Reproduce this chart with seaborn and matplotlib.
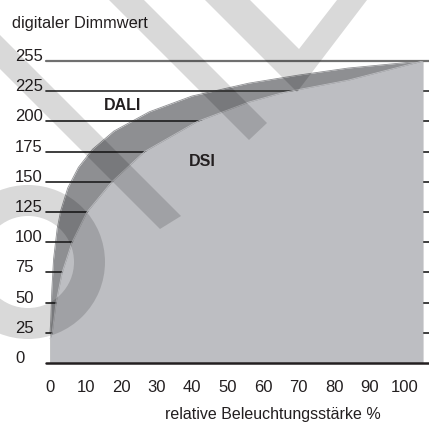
import numpy as np
import pandas as pd
import matplotlib
matplotlib.use("Agg")
import matplotlib.pyplot as plt
from matplotlib.patches import Polygon, Wedge
import seaborn as sns

# values
y_ticks = [0, 25, 50, 75, 100, 125, 150, 175, 200, 225, 255]
y_tick_labels = ["0", "25", "50", "75", "100", "125", "150", "175", "200", "225", "255"]
x_ticks = [0, 10, 20, 30, 40, 50, 60, 70, 80, 90, 100]

# DALI (logarithmic) - upper edge of the dark band
dali_pct = [0, 0.2, 0.5, 1, 2, 3, 5, 8, 12, 18, 28, 40, 56, 70, 84, 105]
dali_val = [25, 35, 60, 86, 111, 126, 145, 162, 177, 192, 208, 221, 233, 241, 248, 255]

# DSI - upper edge of the light grey area
dsi_pct = [0, 0.6, 1.7, 3.4, 6.2, 10.4, 17.4, 26.6, 41.5, 56, 65.8, 84, 105]
dsi_val = [20, 25, 50, 75, 100, 125, 150, 175, 200, 216, 224, 236, 255]

TXT = "#231f20"
LIGHT = "#bdbec2"
DARK = "#8e8f92"

sns.set_theme(style="white")
plt.rcParams["font.family"] = ["Liberation Sans", "DejaVu Sans"]


# axis is linear up to 225, the last step 225 -> 255 gets the same height as the others
def fwd(v):
    v = np.asarray(v, dtype=float)
    return np.where(v <= 225, v, 225 + (v - 225) * 25.0 / 30.0)


def inv(p):
    p = np.asarray(p, dtype=float)
    return np.where(p <= 225, p, 225 + (p - 225) * 30.0 / 25.0)


dali = pd.DataFrame({"pct": dali_pct, "val": dali_val})
dsi = pd.DataFrame({"pct": dsi_pct, "val": dsi_val})

fig = plt.figure(figsize=(4.29, 4.24), dpi=100)
ax = fig.add_axes([46 / 429, 1 - 363 / 424, 383 / 429, 302 / 424])
ax.set_yscale("function", functions=(fwd, inv))

# dark band (DALI) below the grid lines, light area (DSI) above them
ax.fill_between(dali["pct"], dali["val"], 0, color=DARK, lw=0, zorder=1)
sns.lineplot(data=dali, x="pct", y="val", color=DARK, lw=0.6, ax=ax, zorder=1)

for v in y_ticks[1:]:
    if v == 255:
        c, w = "#707070", 1.6
    elif v == 225:
        c, w = "#3c3c3c", 1.3
    else:
        c, w = "#1e1e1e", 1.2
    ax.axhline(v, color=c, lw=w, zorder=2, clip_on=False)

ax.fill_between(dsi["pct"], dsi["val"], 0, color=LIGHT, lw=0, zorder=3)
sns.lineplot(data=dsi, x="pct", y="val", color=LIGHT, lw=0.6, ax=ax, zorder=3)

ax.axhline(0, color=TXT, lw=1.8, zorder=4, clip_on=False)

ax.set_xlim(-1.13, 106.76)
ax.set_ylim(0, 255)
for s in ax.spines.values():
    s.set_visible(False)

ax.set_xticks(x_ticks)
ax.set_xticklabels([str(v) for v in x_ticks], fontsize=12, color=TXT)
ax.tick_params(axis="x", length=0, pad=12)
ax.set_yticks(y_ticks)
ax.set_yticklabels(y_tick_labels, fontsize=12, color=TXT, ha="left", va="baseline")
ax.tick_params(axis="y", length=0, pad=22.3)
ax.set_xlabel("")
ax.set_ylabel("")

ax.text(20.5, 213, "DALI", fontsize=11.5, fontweight="bold", color=TXT,
        ha="center", va="center", zorder=5)
ax.text(42.8, 167, "DSI", fontsize=11.5, fontweight="bold", color=TXT,
        ha="center", va="center", zorder=5)

fig.text(12 / 429, 1 - 28 / 424, "digitaler Dimmwert", fontsize=11.8, color=TXT,
         ha="left", va="baseline")
fig.text(381 / 429, 1 - 419 / 424, "relative Beleuchtungsstärke %", fontsize=11.5,
         color=TXT, ha="right", va="baseline")

# faint watermark laid over the picture (outline in image pixels, y downwards)
H = 424.0
wm = dict(facecolor="black", alpha=0.15, lw=0, zorder=10, transform=fig.dpi_scale_trans)


def px(pts):
    return [(x / 100.0, (H - y) / 100.0) for x, y in pts]


for shape in [
    [(109, 0), (144, 0), (267, 123), (249, 140)],
    [(205, 0), (250, 0), (299, 49), (337, 0), (367, 0), (297, 92)],
    [(0, 69), (0, 35), (181, 216), (160, 229)],
]:
    fig.add_artist(Polygon(px(shape), closed=True, **wm))

fig.add_artist(Wedge((28 / 100.0, (H - 262) / 100.0), 77 / 100.0, 0, 360,
                     width=31 / 100.0, **wm))

fig.savefig("out.png", dpi=100)
